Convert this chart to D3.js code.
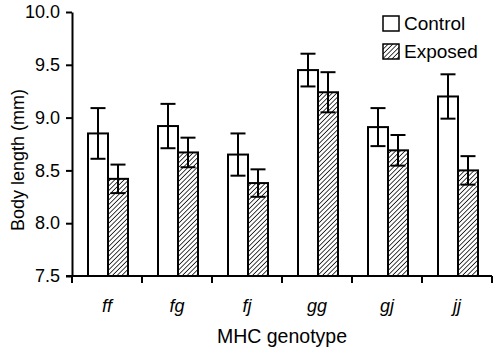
<!DOCTYPE html>
<meta charset="utf-8">
<head>
    <meta charset="utf-8">
    <title>Body length by MHC genotype</title>
    <script src="https://d3js.org/d3.v7.min.js" charset="utf-8"></script>
    <style>
        html, body {
            margin: 0;
            padding: 0;
            background: #fff;
        }
        text {
            font-family: "Liberation Sans", Arial, sans-serif;
            fill: #000;
        }
        .axis path, .axis line {
            stroke: #000;
            stroke-width: 2px;
        }
        .axis text {
            font-size: 18px;
        }
        .bar {
            stroke: #000;
            stroke-width: 2px;
        }
        .err {
            stroke: #000;
            stroke-width: 2px;
            fill: none;
        }
    </style>
</head>
<body>
<div class="chart"></div>
<script>

// データ
var genotypes = ["ff", "fg", "fj", "gg", "gj", "jj"];
var groups = ["Control", "Exposed"];
var controlMean = [8.85, 8.92, 8.65, 9.45, 8.91, 9.20];
var controlSE   = [0.24, 0.21, 0.20, 0.155, 0.18, 0.21];
var exposedMean = [8.42, 8.67, 8.38, 9.24, 8.69, 8.50];
var exposedSE   = [0.135, 0.14, 0.13, 0.19, 0.145, 0.135];
var yTicks = [7.5, 8.0, 8.5, 9.0, 9.5, 10.0];

var rows = [];
genotypes.forEach(function(g, i) {
    rows.push({geno: g, group: "Control", mean: controlMean[i], se: controlSE[i]});
    rows.push({geno: g, group: "Exposed", mean: exposedMean[i], se: exposedSE[i]});
});

var W = 498, H = 352;
var margin = {top: 12, right: 6, bottom: 76, left: 72};

var svg = d3.select(".chart")
    .append("svg")
    .attr("width", W)
    .attr("height", H);

// 斜線パターン
var defs = svg.append("defs");
var pat = defs.append("pattern")
    .attr("id", "hatch")
    .attr("patternUnits", "userSpaceOnUse")
    .attr("width", 3.3)
    .attr("height", 3.3)
    .attr("patternTransform", "rotate(45)");
pat.append("rect")
    .attr("width", 3.3).attr("height", 3.3)
    .attr("fill", "#fff");
pat.append("line")
    .attr("x1", 0).attr("y1", 0)
    .attr("x2", 0).attr("y2", 3.3)
    .attr("stroke", "#000")
    .attr("stroke-width", 1.5);

var fills = {Control: "#fff", Exposed: "url(#hatch)"};

var x = d3.scaleBand()
    .domain(genotypes)
    .range([margin.left, W - margin.right])
    .padding(0);

var xInner = d3.scaleBand()
    .domain(groups)
    .range([16, 56]);

var y = d3.scaleLinear()
    .domain([7.5, 10])
    .range([H - margin.bottom, margin.top]);

// バー
svg.selectAll(".bar")
    .data(rows)
    .enter()
    .append("rect")
    .attr("class", "bar")
    .attr("x", d => x(d.geno) + xInner(d.group))
    .attr("y", d => y(d.mean))
    .attr("width", xInner.bandwidth())
    .attr("height", d => y(7.5) - y(d.mean))
    .attr("fill", d => fills[d.group]);

// エラーバー
var capW = 15;
var err = svg.selectAll(".err")
    .data(rows)
    .enter()
    .append("g")
    .attr("class", "err")
    .attr("transform", d => "translate(" + (x(d.geno) + xInner(d.group) + xInner.bandwidth() / 2) + ",0)");

err.append("line")
    .attr("x1", 0).attr("x2", 0)
    .attr("y1", d => y(d.mean + d.se))
    .attr("y2", d => y(d.mean - d.se));
err.append("line")
    .attr("x1", -capW / 2).attr("x2", capW / 2)
    .attr("y1", d => y(d.mean + d.se))
    .attr("y2", d => y(d.mean + d.se));
err.append("line")
    .attr("x1", -capW / 2).attr("x2", capW / 2)
    .attr("y1", d => y(d.mean - d.se))
    .attr("y2", d => y(d.mean - d.se));

// 軸
svg.append("g")
    .attr("class", "axis y-axis")
    .attr("transform", "translate(" + margin.left + ",0)")
    .call(d3.axisLeft(y).tickValues(yTicks).tickFormat(d3.format(".1f")).tickSize(6).tickPadding(6).tickSizeOuter(0));

// x軸: 目盛りはカテゴリの境界
var xAxis = svg.append("g")
    .attr("class", "axis x-axis")
    .attr("transform", "translate(0," + y(7.5) + ")");
xAxis.append("line")
    .attr("x1", margin.left - 6)
    .attr("x2", W - margin.right)
    .attr("y1", 0).attr("y2", 0);
xAxis.selectAll(".xtick")
    .data(genotypes.concat(["end"]))
    .enter()
    .append("line")
    .attr("class", "xtick")
    .attr("x1", (d, i) => i < genotypes.length ? x(d) : x.range()[1])
    .attr("x2", (d, i) => i < genotypes.length ? x(d) : x.range()[1])
    .attr("y1", 0)
    .attr("y2", 7);
xAxis.selectAll(".xlab")
    .data(genotypes)
    .enter()
    .append("text")
    .attr("class", "xlab")
    .attr("x", d => x(d) + x.bandwidth() / 2)
    .attr("y", 36)
    .attr("text-anchor", "middle")
    .style("font-style", "italic")
    .text(d => d);

// 軸タイトル
svg.append("text")
    .attr("x", (margin.left + W - margin.right) / 2)
    .attr("y", 343)
    .attr("text-anchor", "middle")
    .style("font-size", "19.5px")
    .text("MHC genotype");

svg.append("text")
    .attr("transform", "rotate(-90)")
    .attr("x", -160)
    .attr("y", 24)
    .attr("text-anchor", "middle")
    .style("font-size", "18px")
    .text("Body length (mm)");

// 凡例
var legend = svg.selectAll(".legend")
    .data(groups)
    .enter()
    .append("g")
    .attr("class", "legend")
    .attr("transform", (d, i) => "translate(383," + (16 + i * 28) + ")");
legend.append("rect")
    .attr("width", 16)
    .attr("height", 15)
    .attr("fill", d => fills[d])
    .attr("stroke", "#000")
    .attr("stroke-width", 1.5);
legend.append("text")
    .attr("x", 21)
    .attr("y", 14)
    .style("font-size", "19px")
    .text(d => d);

</script>
</body>
</html>
